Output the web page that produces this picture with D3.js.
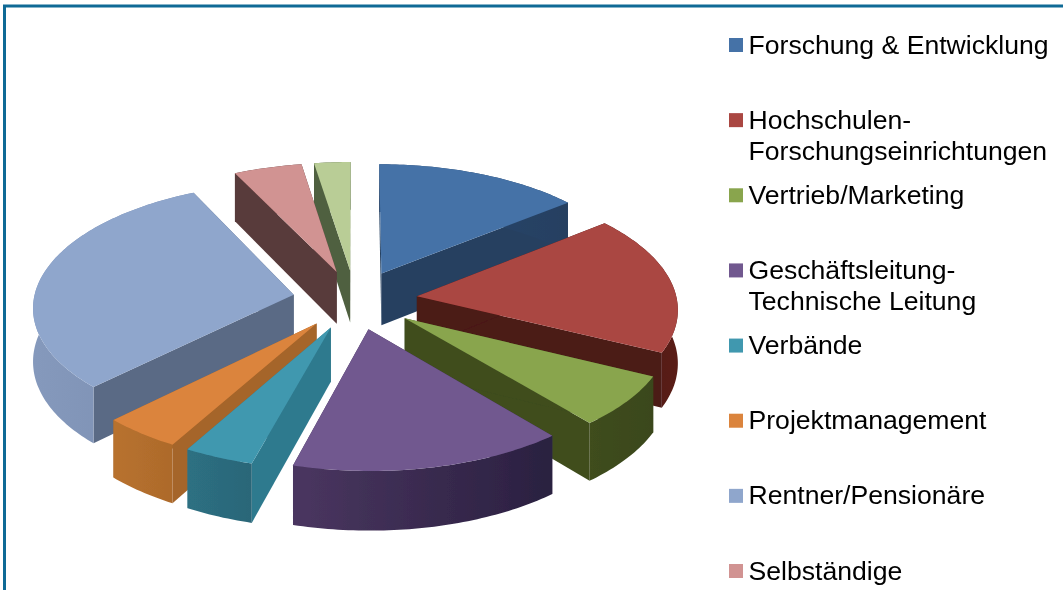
<!DOCTYPE html>
<html>
<head>
<meta charset="utf-8">
<script src="https://cdnjs.cloudflare.com/ajax/libs/d3/7.8.5/d3.min.js"></script>
<style>
    html, body { margin: 0; padding: 0; background: #fff; overflow: hidden; }
    svg { display: block; }
</style>
</head>
<body>
<div id="chart"></div>
<script>
// (percent of all answers), clockwise from twelve o'clock
const sliceNames = ['Forschung', 'Hochschulen', 'Vertrieb', 'Geschaeftsleitung', 'Verbaende',
    'Projektmanagement', 'Rentner', 'Selbstaendige', 'Rest'];
const sliceShares = [14.2, 18.1, 6.7, 15.3, 3.9, 4.4, 30.3, 4.7, 2.5];

// The legend of the last slice is cut off by the bottom of the picture, so it has no label here
const legendLabels = [
    ['Forschung & Entwicklung'],
    ['Hochschulen-', 'Forschungseinrichtungen'],
    ['Vertrieb/Marketing'],
    ['Geschäftsleitung-', 'Technische Leitung'],
    ['Verbände'],
    ['Projektmanagement'],
    ['Rentner/Pensionäre'],
    ['Selbständige'],
];

const topColors = ['#4572a7', '#aa4643', '#89a54e', '#71588f', '#4198af', '#db843d', '#8fa6cc', '#d19392', '#b9cd96'];
const wallColors = ['#254061', '#4b1a14', '#3f4d1e', '#3f3055', '#2f7a8e', '#a5652a', '#5a6a85', '#583a3a', '#4f6040'];
const rimLeftColors = ['#2c4a70', '#4b1a14', '#3f4d1e', '#4a3660', '#2d7082', '#b8722f', '#8599bc', '#583a3a', '#4f6040'];
const rimRightColors = ['#254061', '#5a1f18', '#3a471a', '#2a2040', '#2b6678', '#ad6a2b', '#7a8db0', '#583a3a', '#4f6040'];

const width = 1063;
const height = 590;
const settings = {
    explode: 0.24,      // how far the slices are pulled out, in radii
    perspective: 0.09,  // the front of the pie looks bigger than the back
    depth: 53,
    arcStep: 2 * Math.PI / 360,
};

const svg = d3.select('#chart').append('svg')
    .attr('width', width)
    .attr('height', height)
    .attr('viewBox', `0 0 ${width} ${height}`)
    .attr('font-family', '"Liberation Sans", Arial, sans-serif');

const defs = svg.append('defs');
defs.append('filter').attr('id', 'soft')
    .append('feGaussianBlur').attr('stdDeviation', 0.6);
defs.append('filter').attr('id', 'softText')
    .append('feGaussianBlur').attr('stdDeviation', 0.4);

svg.append('rect')
    .attr('width', width)
    .attr('height', height)
    .attr('fill', '#fff');

// Frame, only its top and left edge are inside the picture
svg.append('path')
    .attr('d', `M4.5,${height} V6 H${width}`)
    .attr('fill', 'none')
    .attr('stroke', '#0f6a96')
    .attr('stroke-width', 3);

const xScale = d3.scaleLinear().domain([-1, 1]).range([95, 615]);
const yScale = d3.scaleLinear().domain([-1, 1]).range([423, 176.2]);
const lineGen = d3.line();

// Ground position of a slice point -> screen position
function project(gx, gy, drop = 0) {
    const p = 1 / (1 + settings.perspective * gy);
    return [xScale(gx * p), yScale(gy * p) + drop * p];
}

function slicePoint(d, angle, radius, drop) {
    const mid = (d.startAngle + d.endAngle) / 2;
    const gx = settings.explode * Math.sin(mid) + radius * Math.sin(angle);
    const gy = settings.explode * Math.cos(mid) + radius * Math.cos(angle);
    return project(gx, gy, drop);
}

function arcAngles(d) {
    const angles = d3.range(d.startAngle, d.endAngle, settings.arcStep);
    angles.push(d.endAngle);
    return angles;
}

function topPath(d) {
    const rim = arcAngles(d).map((a) => slicePoint(d, a, 1, 0));
    return lineGen([slicePoint(d, 0, 0, 0), ...rim]) + 'Z';
}

function radialWall(d, angle) {
    return lineGen([
        slicePoint(d, 0, 0, 0),
        slicePoint(d, angle, 1, 0),
        slicePoint(d, angle, 1, settings.depth),
        slicePoint(d, 0, 0, settings.depth),
    ]) + 'Z';
}

function rimWall(d) {
    const angles = arcAngles(d);
    const upper = angles.map((a) => slicePoint(d, a, 1, 0));
    const lower = angles.slice().reverse().map((a) => slicePoint(d, a, 1, settings.depth));
    return lineGen([...upper, ...lower]) + 'Z';
}

const pie = d3.pie().sort(null).value((d) => d);
const slices = pie(sliceShares).map((d, i) => ({ ...d, name: sliceNames[i] }));

// One horizontal shade per outer wall
slices.forEach((d, i) => {
    const gradient = defs.append('linearGradient').attr('id', `rim${i}`);
    gradient.append('stop').attr('offset', '0%').attr('stop-color', rimLeftColors[i]);
    gradient.append('stop').attr('offset', '100%').attr('stop-color', rimRightColors[i]);
});

// Back to front, so the nearer slices cover the ones behind them
const drawOrder = slices.slice().sort((a, b) => {
    const depthOf = (d) => Math.cos((d.startAngle + d.endAngle) / 2);
    return depthOf(b) - depthOf(a);
});

const pieGroup = svg.append('g').attr('filter', 'url(#soft)');

const sliceGroups = pieGroup.selectAll('g.slice')
    .data(drawOrder)
    .join('g')
    .attr('class', 'slice');

sliceGroups.append('path')
    .attr('d', (d) => radialWall(d, d.endAngle))
    .attr('fill', (d) => wallColors[d.index]);
sliceGroups.append('path')
    .attr('d', (d) => radialWall(d, d.startAngle))
    .attr('fill', (d) => wallColors[d.index]);
sliceGroups.append('path')
    .attr('d', rimWall)
    .attr('fill', (d) => `url(#rim${d.index})`);
sliceGroups.append('path')
    .attr('d', topPath)
    .attr('fill', (d) => topColors[d.index]);

// Legend, the rows sit on an even grid
const legendY = d3.scalePoint()
    .domain(d3.range(legendLabels.length))
    .range([45, 571]);

const legend = svg.append('g').attr('filter', 'url(#softText)');

const rows = legend.selectAll('g.row')
    .data(legendLabels)
    .join('g')
    .attr('class', 'row')
    .attr('transform', (d, i) => `translate(729, ${legendY(i)})`);

rows.append('rect')
    .attr('y', -7)
    .attr('width', 14)
    .attr('height', 14)
    .attr('fill', (d, i) => topColors[i]);

rows.append('text')
    .attr('y', 8.5)
    .attr('font-size', 26.6)
    .attr('fill', '#000')
    .selectAll('tspan')
    .data((d) => d)
    .join('tspan')
    .attr('x', 19.5)
    .attr('dy', (d, i) => (i === 0 ? 0 : 31))
    .text((d) => d);
</script>
</body>
</html>
